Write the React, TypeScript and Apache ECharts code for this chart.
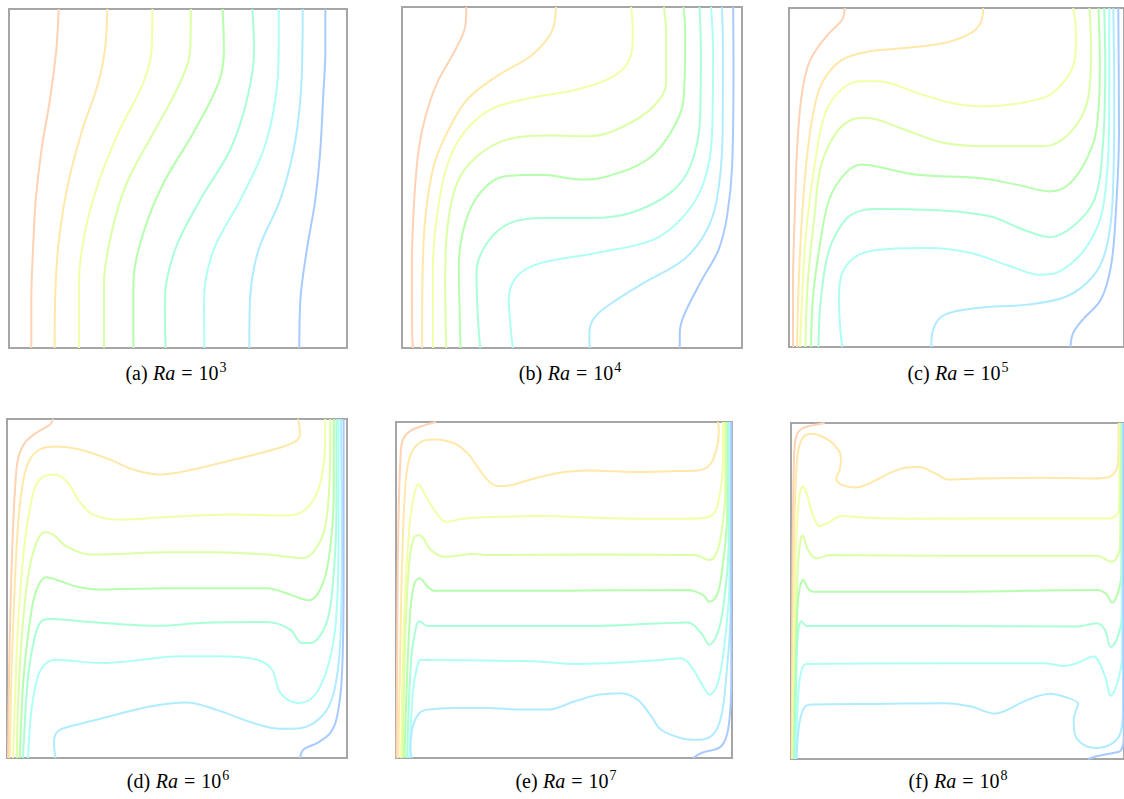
import React, { useEffect, useRef } from "react";
import * as echarts from "echarts";

// Isotherms (x %, y %) of the cavity, 9 levels hot (left) -> cold (right)
const panelLabels = ["(a)", "(b)", "(c)", "(d)", "(e)", "(f)"];
const rayleighExponents = ["3", "4", "5", "6", "7", "8"];

const isoA: number[][][] = [
  [[14.7,100],[14.0,88],[12.1,73.2],[9.6,58.4],[7.9,43.6],[7.1,28.9],[6.6,14.1],[6.6,0]],
  [[29.1,100],[28.4,88],[26.4,78.2],[21.4,63.4],[17.5,48.6],[15.0,33.8],[13.8,19.0],[13.5,0]],
  [[42.4,100],[42.2,88],[39.7,78.2],[32.3,63.4],[26.4,48.6],[22.4,33.8],[20.7,19.0],[20.7,0]],
  [[53.8,100],[53.6,88],[50.6,78.2],[42.7,63.4],[34.8,48.6],[30.3,33.8],[28.1,19.0],[28.1,0]],
  [[63.2,100],[63.6,88],[62.0,78.2],[54.5,63.4],[45.7,48.6],[39.7,33.8],[36.8,19.0],[36.8,0]],
  [[72.0,100],[72.5,88],[70.4,73.2],[65.4,58.4],[56.5,43.6],[49.1,28.9],[46.1,14.1],[46.3,0]],
  [[79.8,100],[79.8,88],[78.8,73.2],[75.3,58.4],[68.4,43.6],[60.5,28.9],[57.7,14.1],[57.8,0]],
  [[86.9,100],[86.8,88],[86.2,73.2],[84.2,58.4],[80.2,43.6],[73.8,28.9],[71.3,14.1],[71.1,0]],
  [[93.6,100],[93.6,88],[92.9,73.2],[92.1,58.4],[90.6,43.6],[88.1,28.9],[86.2,14.1],[85.9,0]],
];

const isoB: number[][][] = [
  [[18.9,100],[18.6,94.3],[15.7,87.5],[10.3,77.7],[6.9,67.9],[4.9,58.2],[3.6,43.5],[2.9,23.9],[3.0,4.4],[3.2,0]],
  [[45.3,100],[44.6,94.3],[42.6,90.4],[37.7,85.5],[27.9,79.7],[19.1,72.8],[13.2,63.0],[9.3,53.3],[6.9,38.6],[6.1,23.9],[5.9,0]],
  [[67.4,100],[67.9,92.4],[67.2,85.5],[62.3,79.7],[51.5,75.8],[37.7,73.3],[26.0,69.9],[18.1,63.0],[13.2,53.3],[10.3,38.6],[9.1,23.9],[9.1,0]],
  [[77.0,100],[77.7,92.4],[77.7,77.7],[74.0,70.9],[65.2,65.0],[55.4,62.1],[43.6,62.3],[30.9,61.1],[22.1,56.2],[16.2,48.4],[13.2,33.7],[12.7,19.1],[13.0,0]],
  [[82.8,100],[83.3,92.4],[82.8,72.8],[78.9,63.0],[72.1,55.2],[60.3,50.3],[53.4,49.4],[40.7,50.8],[29.9,50.3],[23.0,45.5],[18.6,36.7],[16.7,23.9],[17.0,9.3],[17.2,0]],
  [[87.5,100],[87.9,87.5],[87.7,67.9],[84.8,53.3],[78.9,45.5],[67.2,39.6],[55.4,38.1],[42.6,38.1],[31.9,36.7],[25.0,30.8],[21.9,22.0],[22.3,9.3],[23.0,0]],
  [[90.9,100],[91.5,87.5],[91.2,63.0],[88.7,48.4],[82.8,38.6],[74.0,31.8],[57.4,27.9],[40.7,24.9],[33.8,21.0],[31.4,14.2],[32.1,4.4],[32.6,0]],
  [[94.1,100],[94.4,87.5],[94.3,63.0],[92.6,43.5],[89.2,33.7],[82.8,25.9],[71.1,19.1],[63.2,14.2],[56.9,9.3],[55.1,4.4],[55.2,0]],
  [[97.4,100],[97.5,82.6],[97.1,53.3],[95.6,38.6],[93.1,28.8],[87.7,19.1],[82.8,9.3],[81.7,4.4],[81.7,0]],
];

const isoC: number[][][] = [
  [[16.6,100],[15.9,96.6],[12.0,92.6],[8.1,87.7],[5.6,82.8],[3.6,73.0],[2.4,58.2],[1.7,38.5],[1.2,18.9],[1.2,0]],
  [[58.0,100],[57.2,95.6],[54.3,92.6],[46.4,89.7],[34.6,88.2],[23.8,87.2],[15.9,84.8],[11.0,79.8],[8.1,73.0],[5.6,58.2],[3.9,38.5],[2.9,18.9],[2.4,0]],
  [[84.8,100],[85.7,92.6],[85.3,84.8],[81.8,77.9],[75.9,73.5],[58.2,71.0],[48.4,72.0],[38.5,74.9],[26.7,78.4],[20.8,78.4],[14.5,74.9],[10.5,68.0],[7.6,53.3],[5.1,33.6],[3.9,14.0],[3.3,0]],
  [[89.7,100],[90.2,87.7],[89.2,73.0],[83.8,63.1],[75.9,59.2],[61.2,59.2],[46.4,60.2],[34.6,64.1],[22.8,67.6],[18.9,67.1],[14.0,63.1],[9.5,53.3],[7.6,38.5],[5.6,18.9],[4.9,0]],
  [[92.4,100],[92.8,82.8],[91.6,63.1],[87.7,53.3],[82.8,47.4],[77.9,45.9],[68.0,47.9],[56.2,49.9],[38.5,50.8],[25.8,53.3],[21.8,53.8],[16.9,51.3],[12.0,43.5],[9.0,28.7],[7.1,14.0],[6.6,0]],
  [[94.1,100],[94.4,82.8],[93.6,58.2],[91.2,43.5],[84.8,35.6],[77.9,32.4],[70.0,34.6],[60.2,38.5],[46.4,40.2],[26.7,40.7],[21.8,40.3],[16.9,37.6],[12.0,28.7],[9.5,14.0],[8.8,0]],
  [[95.6,100],[95.6,73.0],[95.1,53.3],[93.1,38.5],[88.2,28.7],[80.8,22.3],[74.9,21.3],[66.1,23.8],[54.3,27.7],[41.5,29.2],[29.7,28.9],[20.8,27.2],[15.9,21.8],[14.9,14.0],[15.4,4.1],[15.9,0]],
  [[96.8,100],[97.1,73.0],[96.6,43.5],[94.6,28.7],[90.7,20.8],[82.8,14.9],[71.0,12.5],[56.2,11.5],[46.4,9.5],[43.0,5.1],[42.5,0]],
  [[98.3,100],[98.5,63.1],[97.5,38.5],[96.1,23.8],[93.1,14.0],[87.7,8.1],[84.8,4.1],[84.0,0]],
];

const isoD: number[][][] = [
  [[13.6,100],[12.6,98.3],[8.6,95.9],[5.2,92.9],[3.2,88.0],[2.3,78.2],[1.6,63.4],[1.0,43.5],[0.6,24.1],[0.3,0]],
  [[85.6,100],[86.2,95.9],[84.8,93.4],[78.4,91.0],[66.6,88.0],[54.8,85.1],[45.0,83.6],[37.1,85.1],[30.3,88.0],[21.4,91.0],[14.5,91.9],[9.6,91.0],[6.2,87.0],[4.2,78.2],[2.9,63.4],[2.0,43.5],[1.3,24.1],[0.8,0]],
  [[93.6,100],[93.6,92.9],[92.6,83.1],[90.2,76.2],[86.2,72.3],[81.3,71.5],[66.6,71.8],[47.0,71.1],[33.2,70.3],[25.3,71.8],[20.9,76.2],[18.0,81.1],[14.0,83.6],[10.1,82.6],[7.7,78.2],[5.2,63.4],[3.5,43.5],[2.6,24.1],[1.8,0]],
  [[95.1,100],[94.9,83.1],[93.6,68.3],[90.7,61.5],[87.2,59.0],[76.4,60.0],[61.7,60.7],[47.0,60.7],[32.2,60.2],[24.4,60.0],[17.5,62.4],[13.6,65.9],[11.1,66.6],[8.6,63.4],[6.2,53.6],[4.2,33.9],[3.2,14.2],[2.9,0]],
  [[96.1,100],[96.1,78.2],[94.6,58.5],[92.1,49.7],[88.7,46.5],[83.3,48.2],[76.4,50.1],[47.0,50.1],[27.3,49.7],[20.4,50.6],[14.5,52.6],[11.6,53.3],[9.1,50.6],[7.2,43.5],[4.9,24.1],[3.9,4.4],[3.7,0]],
  [[96.9,100],[96.9,73.3],[95.6,48.7],[93.6,38.8],[89.2,33.9],[86.7,33.9],[83.3,37.9],[76.4,40.1],[56.8,39.8],[45.0,39.0],[22.4,40.3],[12.6,41.0],[10.1,40.3],[8.2,35.9],[6.2,24.1],[4.9,4.4],[4.7,0]],
  [[97.5,100],[97.5,63.4],[96.6,38.8],[94.1,26.1],[90.2,18.2],[85.3,16.2],[80.4,19.2],[77.9,26.1],[73.5,29.0],[61.7,30.0],[51.9,30.0],[27.3,28.0],[14.5,29.0],[11.6,28.0],[9.1,24.1],[7.2,14.2],[6.2,0]],
  [[98.2,100],[98.5,63.4],[98.0,33.9],[96.1,19.2],[92.6,12.3],[86.2,8.8],[80.4,8.6],[72.5,10.3],[61.7,14.2],[52.8,16.4],[42.0,15.2],[30.3,12.3],[20.4,9.8],[15.0,7.9],[13.8,4.4],[14.3,0]],
  [[99.0,100],[99.0,53.6],[98.5,24.1],[97.1,12.3],[95.1,7.4],[91.2,4.4],[87.2,2.5],[86.2,0]],
];

const isoE: number[][][] = [
  [[11.9,100],[8.4,99.0],[4.5,97.5],[2.0,94.6],[1.3,88.6],[0.8,73.8],[0.5,54.0],[0.3,24.3],[0.2,0]],
  [[95.8,100],[96.1,97.5],[95.3,91.6],[93.3,87.1],[89.9,85.6],[82.9,85.4],[72.0,85.1],[57.1,85.6],[50.1,85.1],[41.2,83.2],[34.3,81.2],[30.3,80.9],[27.3,82.7],[24.3,86.6],[21.4,90.6],[17.4,93.6],[11.4,94.8],[7.4,94.1],[4.5,90.6],[3.0,83.7],[2.0,63.9],[1.3,34.2],[0.7,0]],
  [[97.3,100],[97.3,88.6],[95.8,75.7],[93.3,71.8],[86.9,71.2],[67.0,71.3],[42.2,72.0],[30.3,71.8],[20.4,71.3],[14.9,70.3],[11.4,73.8],[7.9,79.7],[6.7,81.5],[5.5,78.7],[4.0,68.8],[2.5,44.1],[1.5,0]],
  [[98.0,100],[98.0,78.7],[96.3,63.9],[94.8,59.9],[93.3,58.9],[88.9,60.4],[60.0,60.6],[27.3,60.4],[23.3,60.7],[14.4,59.9],[10.4,61.9],[7.0,66.3],[5.5,65.8],[4.0,58.9],[2.7,34.2],[2.0,0]],
  [[98.6,100],[98.6,73.8],[96.8,54.0],[95.3,48.0],[93.3,46.5],[91.4,48.5],[86.9,50.0],[47.2,49.8],[11.4,49.8],[9.4,51.0],[7.0,53.5],[5.5,52.0],[4.3,44.1],[3.3,24.3],[2.5,0]],
  [[99.0,100],[99.0,63.9],[97.3,44.1],[95.3,36.1],[93.3,33.7],[90.9,37.1],[86.9,40.3],[78.9,40.1],[57.1,39.3],[27.3,39.3],[9.4,39.3],[7.0,40.6],[6.0,39.1],[4.5,29.2],[3.3,0]],
  [[99.3,100],[99.3,54.0],[97.8,34.2],[95.8,22.3],[93.3,18.8],[91.4,21.3],[87.9,27.2],[84.9,29.7],[78.9,29.2],[62.1,28.2],[53.1,28.0],[42.2,28.7],[7.4,29.2],[6.3,27.2],[5.0,19.3],[4.0,0]],
  [[99.6,100],[99.6,44.1],[98.3,24.3],[96.8,12.4],[94.3,6.9],[89.9,5.4],[84.9,5.9],[78.9,8.4],[76.0,12.4],[72.0,17.3],[67.0,19.3],[60.1,18.8],[53.1,16.8],[45.2,14.4],[37.2,14.4],[27.3,14.9],[17.4,14.9],[9.4,14.4],[7.0,13.4],[5.0,9.4],[4.3,2.5],[4.7,0]],
  [[99.8,100],[99.8,24.3],[99.0,9.4],[96.8,3.5],[90.9,1.5],[88.4,0]],
];

const isoF: number[][][] = [
  [[10.1,100],[6.6,99.3],[3.2,98.3],[1.5,95.8],[0.9,88.9],[0.5,64.2],[0.3,24.6],[0.2,0]],
  [[98.4,100],[98.2,88.0],[95.7,84.0],[90.8,83.5],[75.9,83.7],[56.1,83.5],[47.2,83.2],[43.3,85.0],[38.3,86.9],[34.4,86.7],[29.4,85.0],[24.5,82.5],[19.5,80.8],[15.5,81.5],[13.6,83.5],[14.6,85.9],[15.0,89.9],[12.6,93.9],[8.6,96.3],[6.1,96.8],[3.7,95.8],[2.2,91.9],[1.5,84.0],[0.9,64.2],[0.5,24.6],[0.3,0]],
  [[98.7,100],[98.5,74.1],[95.7,71.6],[75.9,71.6],[36.3,71.5],[21.5,71.9],[15.5,72.3],[10.6,70.1],[8.6,69.3],[6.1,74.1],[4.7,79.0],[3.5,81.2],[2.5,78.0],[1.5,64.2],[0.9,34.5],[0.5,0]],
  [[99.0,100],[98.8,63.0],[96.2,58.7],[91.8,60.5],[46.2,60.5],[11.6,60.7],[7.6,59.7],[5.1,62.2],[3.5,66.6],[2.7,64.2],[1.9,54.3],[1.2,24.6],[0.7,0]],
  [[99.3,100],[99.2,55.0],[98.0,49.0],[96.4,46.5],[94.8,49.0],[92.0,50.3],[46.2,49.8],[6.6,49.8],[5.1,50.8],[3.7,53.3],[2.7,51.3],[1.9,44.4],[0.9,0]],
  [[99.5,100],[99.3,42.0],[97.8,35.5],[96.0,33.3],[94.3,38.4],[91.8,40.4],[85.8,39.4],[46.2,39.6],[4.7,39.6],[3.2,40.9],[2.2,38.4],[1.7,29.5],[1.1,0]],
  [[99.6,100],[99.4,30.0],[97.8,22.0],[96.0,18.8],[94.3,24.6],[90.8,30.5],[85.8,28.5],[81.9,27.7],[75.9,28.5],[46.2,28.5],[4.7,28.3],[3.2,26.5],[2.2,19.6],[1.4,0]],
  [[99.7,100],[99.7,15.0],[99.0,8.0],[96.7,4.8],[91.8,3.3],[87.8,4.3],[85.3,7.2],[84.9,11.7],[85.8,15.1],[86.3,16.4],[81.9,18.6],[77.9,19.4],[71.0,17.6],[61.1,13.5],[58.1,14.2],[54.2,15.6],[46.2,16.6],[26.4,16.4],[6.6,16.2],[4.2,15.6],[2.7,11.7],[1.9,4.8],[1.7,0]],
  [[99.9,100],[99.9,6.0],[99.0,2.5],[96.7,1.8],[91.8,0.8],[89.3,0]],
];

const panelData = [isoA, isoB, isoC, isoD, isoE, isoF];

// styling / layout
const levelColors = ["#ffd2b4", "#ffe8a8", "#f2ffa6", "#dbffa4", "#b6ffac", "#aaffd6", "#aefff4", "#b0ecff", "#a8caff"];
const boxes = [
  { left: 9, top: 9, w: 338, h: 339, cx: 176, cy: 373 },
  { left: 402, top: 7, w: 340, h: 341, cx: 570, cy: 373 },
  { left: 789, top: 8, w: 339, h: 339, cx: 958, cy: 373 },
  { left: 7, top: 419, w: 340, h: 339, cx: 178, cy: 781 },
  { left: 396, top: 422, w: 336, h: 336, cx: 566, cy: 781 },
  { left: 791, top: 423, w: 337, h: 336, cx: 958, cy: 781 },
];

export default function App() {
  const ref = useRef<HTMLDivElement>(null);
  useEffect(() => {
    if (!ref.current) return;
    const chart = echarts.init(ref.current, undefined, { renderer: "svg" });
    const grid = boxes.map((b) => ({
      left: b.left, top: b.top, width: b.w, height: b.h,
      show: true, borderColor: "#a6a6a6", borderWidth: 2, backgroundColor: "#ffffff",
      containLabel: false,
    }));
    const xAxis = boxes.map((_, i) => ({ type: "value", gridIndex: i, min: 0, max: 100, show: false }));
    const yAxis = boxes.map((_, i) => ({ type: "value", gridIndex: i, min: 0, max: 100, show: false }));
    const series: any[] = [];
    panelData.forEach((panel, i) => {
      panel.forEach((line, j) => {
        series.push({
          type: "line", xAxisIndex: i, yAxisIndex: i, data: line,
          smooth: 0.35, symbol: "none", showSymbol: false, silent: true, clip: true,
          lineStyle: { color: levelColors[j], width: 2 },
        });
      });
    });
    const base = { fontFamily: "Liberation Serif", fontSize: 20, lineHeight: 26, color: "#000" };
    const graphic = boxes.map((b, i) => ({
      type: "text", x: b.cx, y: b.cy, silent: true,
      style: {
        text: `{n|${panelLabels[i]}}{g| }{i|Ra}{eq|=}{n|10}{s|${rayleighExponents[i]}}`,
        align: "center", verticalAlign: "middle",
        rich: {
          n: { ...base },
          g: { ...base, fontSize: 22 },
          i: { ...base, fontStyle: "italic" },
          eq: { ...base, padding: [0, 6, 0, 6] },
          s: { fontFamily: "Liberation Serif", fontSize: 14, lineHeight: 15, verticalAlign: "top", color: "#000", padding: [0, 0, 0, 1] },
        },
      },
    }));
    chart.setOption({ animation: false, backgroundColor: "#ffffff", grid, xAxis, yAxis, series, graphic });
    return () => chart.dispose();
  }, []);
  return <div ref={ref} style={{ position: "fixed", left: 0, top: 0, width: 1124, height: 799 }} />;
}
